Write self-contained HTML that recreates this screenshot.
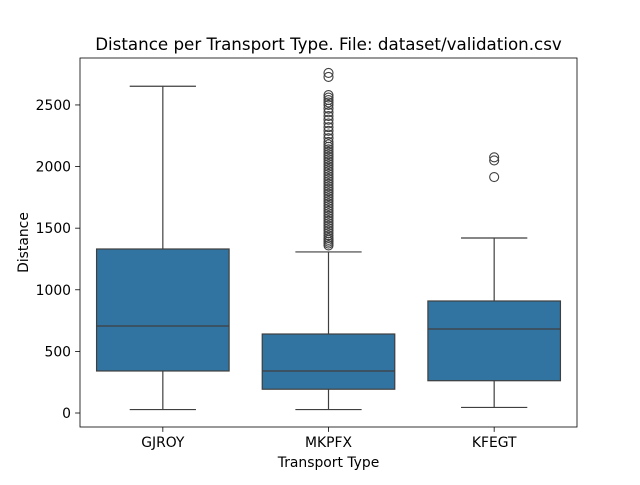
<!DOCTYPE html>
<html><head><meta charset="utf-8"><style>
body{margin:0;background:#fff;}
svg text{font-family:"DejaVu Sans","Liberation Sans",sans-serif;fill:#000;}
</style></head><body>
<svg id="chart" width="640" height="480" viewBox="0 0 640 480" xmlns="http://www.w3.org/2000/svg">
<rect width="640" height="480" fill="#fff"/>
<text x="328.5" y="50" font-size="16.7" text-anchor="middle">Distance per Transport Type. File: dataset/validation.csv</text>
<g id="plot"></g>
<rect x="80" y="58" width="497" height="369" fill="none" stroke="#000" stroke-width="0.8"/>
<text x="328.5" y="467" font-size="13.9" text-anchor="middle">Transport Type</text>
<text x="28" y="242.5" font-size="13.9" text-anchor="middle" transform="rotate(-90 28 242.5)">Distance</text>
</svg>
<script>
const categories = ["GJROY","MKPFX","KFEGT"];
const whiskerLow = [28, 28, 45];
const q1 = [341, 193, 262];
const median = [706, 341, 682];
const q3 = [1331, 641, 909];
const whiskerHigh = [2652, 1307, 1420];
const outliersGJROY = [];
const outliersMKPFX = [1360,1375,1390,1405,1420,1440,1460,1480,1500,1520,1540,1560,1580,1600,1620,1640,1660,1680,1700,1720,1740,1760,1780,1800,1820,1840,1860,1880,1900,1920,1940,1960,1980,2000,2020,2040,2060,2080,2100,2120,2140,2160,2180,2200,2230,2260,2290,2320,2350,2380,2410,2440,2470,2500,2520,2540,2560,2580,2727,2760];
const outliersKFEGT = [1915, 2050, 2075];
const yTicks = [0,500,1000,1500,2000,2500];

const svg = document.getElementById('plot');
const NS = 'http://www.w3.org/2000/svg';
const x0 = 80, x1 = 577, yTop = 58, yBot = 427;
const yMin = -113.6, yMax = 2881;
const y = v => yBot - (v - yMin) / (yMax - yMin) * (yBot - yTop);
const band = (x1 - x0) / categories.length;
const xc = i => x0 + band * (i + 0.5);
const boxW = band * 0.8;
function mk(tag, attrs){const e=document.createElementNS(NS,tag);for(const k in attrs)e.setAttribute(k,attrs[k]);svg.appendChild(e);return e;}
const outs = [outliersGJROY, outliersMKPFX, outliersKFEGT];
categories.forEach((c,i)=>{
  const cx = xc(i);
  let e = mk('line',{x1:cx,x2:cx,y1:y(q1[i]),y2:y(whiskerLow[i]),stroke:'#3f3f3f','stroke-width':1.2});
  
  
  e = mk('line',{x1:cx,x2:cx,y1:y(q3[i]),y2:y(whiskerHigh[i]),stroke:'#3f3f3f','stroke-width':1.2});
  
  
  [whiskerLow[i], whiskerHigh[i]].forEach(v=>{
    const cap = mk('line',{x1:cx-boxW/4,x2:cx+boxW/4,y1:y(v),y2:y(v),stroke:'#3f3f3f','stroke-width':1.2});
    
    
  });
  e = mk('rect',{x:cx-boxW/2,y:y(q3[i]),width:boxW,height:y(q1[i])-y(q3[i]),fill:'#3274a1',stroke:'#3f3f3f','stroke-width':1.2});
  
  
  e = mk('line',{x1:cx-boxW/2,x2:cx+boxW/2,y1:y(median[i]),y2:y(median[i]),stroke:'#3f3f3f','stroke-width':1.2});
  
  
  outs[i].forEach(v=>{
    const o = mk('circle',{cx:cx,cy:y(v),r:4.5,fill:'none',stroke:'#3f3f3f','stroke-width':1.1});
    
    
  });
  e = mk('line',{x1:cx,x2:cx,y1:yBot,y2:yBot+4.9,stroke:'#000','stroke-width':0.8});
  
  
  e = mk('text',{x:cx,y:yBot+20,'font-size':13.9,'text-anchor':'middle'});
  e.textContent = c;
  
  
});
yTicks.forEach(t=>{
  let e = mk('line',{x1:x0-4.9,x2:x0,y1:y(t),y2:y(t),stroke:'#000','stroke-width':0.8});
  
  
  e = mk('text',{x:x0-9,y:y(t)+5,'font-size':13.9,'text-anchor':'end'});
  e.textContent = t;
  
  
});
</script>
</body></html>
